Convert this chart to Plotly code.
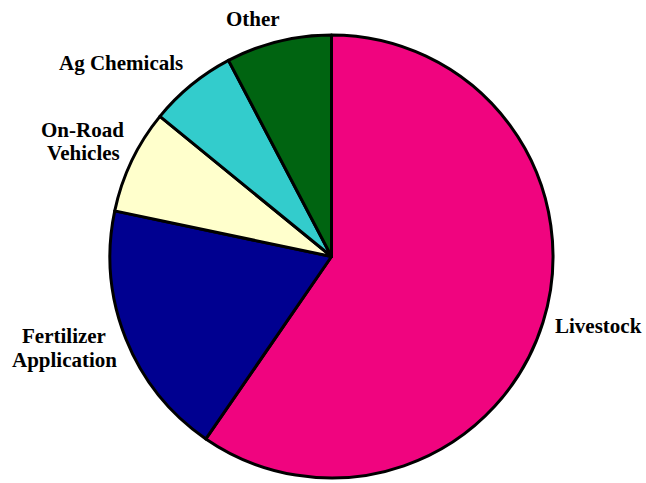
import plotly.graph_objects as go

categories = ["Livestock", "Fertilizer\nApplication", "On-Road\nVehicles", "Ag Chemicals", "Other"]
values = [59.6, 18.7, 7.6, 6.4, 7.7]
colors = ["#F0047F", "#000090", "#FFFFCC", "#33CCCC", "#006411"]

W, H = 646, 483
# label line centers in pixel coords (layout only)
label_pos = [
    [(598, 326)],
    [(64, 336), (64, 360)],
    [(82, 130), (83, 153)],
    [(121, 63)],
    [(253, 19)],
]

fig = go.Figure(go.Pie(
    labels=[c.replace("\n", " ") for c in categories],
    values=values,
    sort=False,
    direction="clockwise",
    rotation=0,
    marker=dict(colors=colors, line=dict(color="black", width=3)),
    textinfo="none",
    hoverinfo="label+percent",
    showlegend=False,
    domain=dict(x=[110 / W, 553 / W], y=[1 - 478 / H, 1 - 35 / H]),
))

annotations = []
for cat, poss in zip(categories, label_pos):
    for line, (px, py) in zip(cat.split("\n"), poss):
        annotations.append(dict(
            text="<b>" + line + "</b>", x=px / W, y=1 - py / H,
            xref="paper", yref="paper", xanchor="center", yanchor="middle",
            showarrow=False,
            font=dict(family="Liberation Serif", size=21, color="black"),
        ))

fig.update_layout(
    width=W, height=H,
    margin=dict(l=0, r=0, t=0, b=0),
    paper_bgcolor="white", plot_bgcolor="white",
    annotations=annotations,
)
fig.write_html("out.html", config={"displayModeBar": False},
               post_script="document.body.style.margin='0';document.body.style.overflow='hidden';")
